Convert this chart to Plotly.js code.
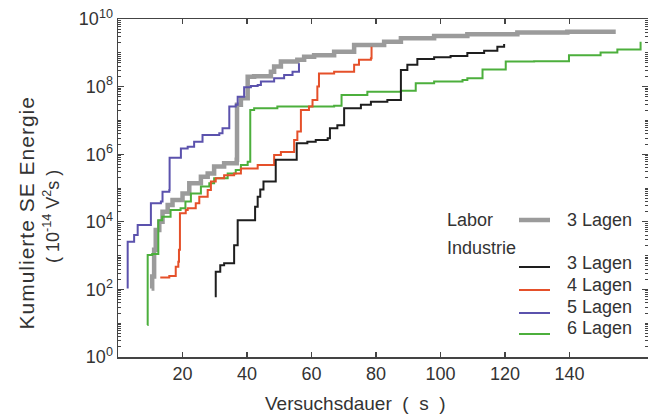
<!DOCTYPE html>
<html><head><meta charset="utf-8">
<script src="https://cdn.plot.ly/plotly-3.0.1.min.js"></script>
<style>html,body{margin:0;padding:0;background:#fff}#plot{width:648px;height:414px}</style>
</head><body><div id="plot"></div>
<script>
// Labor, 3 Lagen (gray)
const laborX = [10.4,10.6,11.2,11.7,12.8,13.8,15.4,16.9,20.0,22.1,25.7,27.8,29.8,32.9,36.8,36.9,38.1,40.2,42.2,47.4,48.4,50.5,55.6,57.7,60.8,67.0,73.2,82.5,87.7,98.0,108.3,123.8,139.3,154.3];
const laborY = [107,240,1480,5750,1.0e4,2.0e4,3.16e4,4.4e4,6.9e4,1.38e5,2.14e5,2.7e5,4.3e5,5.4e5,6.8e5,2.9e7,4.5e7,1.95e8,2.04e8,2.75e8,3.9e8,5.5e8,6.2e8,7.6e8,8.5e8,1.07e9,1.7e9,2.14e9,2.7e9,3.16e9,3.55e9,4.0e9,4.17e9,4.17e9];
// Industrie, 3 Lagen (black)
const ind3X = [30.0,30.3,31.7,32.9,36.0,37.1,42.5,43.3,44.1,45.1,48.9,55.4,58.7,61.3,65.0,65.7,68.0,70.1,75.3,78.4,83.5,87.7,89.7,92.8,98.0,103.1,108.3,113.5,117.6,119.7];
const ind3Y = [63,330,520,590,2040,1.12e4,2.8e4,5.5e4,9.1e4,1.55e5,6.8e5,2.1e6,2.34e6,2.63e6,2.95e6,5.9e6,7.2e6,2.3e7,2.9e7,3.55e7,4.0e7,3.1e8,4.4e8,6.5e8,7.4e8,8.1e8,9.8e8,1.15e9,1.51e9,1.82e9];
// Industrie, 4 Lagen (red)
const ind4X = [13.1,15.9,17.9,18.7,18.9,19.2,21.0,21.6,24.1,25.2,27.8,28.8,30.3,32.9,36.0,38.1,43.3,48.4,50.5,54.6,55.6,56.7,59.2,60.3,61.8,62.3,67.0,73.2,74.7,78.4,78.6];
const ind4Y = [224,250,470,660,1480,1.78e4,2.24e4,2.5e4,3.55e4,5.5e4,8.7e4,1.55e5,1.95e5,2.4e5,2.7e5,3.8e5,4.8e5,9.5e5,1.17e6,2.63e6,4.7e6,2.04e7,2.57e7,4.0e7,1.0e8,2.45e8,2.75e8,4.4e8,6.2e8,6.9e8,1.51e9];
// Industrie, 5 Lagen (blue)
const ind5X = [3.0,3.0,5.0,6.1,10.2,13.3,13.8,15.9,16.0,19.5,21.6,23.6,26.2,31.4,32.4,34.5,36.5,37.1,39.1,41.2,43.3,44.3,48.4,51.5,54.1,56.1,56.1];
const ind5Y = [107,2570,4070,8100,3.55e4,4.0e4,7.8e4,8.7e4,7.9e5,1.48e6,1.66e6,2.34e6,3.7e6,4.2e6,5.9e6,2.57e7,2.9e7,5.0e7,9.5e7,1.05e8,1.12e8,1.41e8,1.78e8,2.19e8,2.75e8,3.1e8,4.9e8];
// Industrie, 6 Lagen (green)
const ind6X = [9.1,9.2,10.6,12.5,13.7,16.3,19.4,20.9,22.6,25.7,28.3,29.8,34.0,36.5,38.1,40.2,41.0,41.0,42.2,49.4,67.0,69.3,77.3,87.7,92.3,98.0,106.8,108.3,113.0,120.2,129.0,139.8,149.6,154.8,162.0,162.0];
const ind6Y = [8.9,1050,1120,1.12e4,1.41e4,2.24e4,2.5e4,4.0e4,6.9e4,1.1e5,1.38e5,1.95e5,2.7e5,3.4e5,4.8e5,6.0e5,8.5e5,2.04e7,2.3e7,2.57e7,2.7e7,5.6e7,7.1e7,7.6e7,1.26e8,1.41e8,1.58e8,1.78e8,3.2e8,5.5e8,5.6e8,8.5e8,1.02e9,1.26e9,1.35e9,2.14e9];

const xTickVals = [20,40,60,80,100,120,140];
const yTickVals = [1,1e2,1e4,1e6,1e8,1e10];
const yTickText = ['10<sup>0</sup>','10<sup>2</sup>','10<sup>4</sup>','10<sup>6</sup>','10<sup>8</sup>','10<sup>10</sup>'];
const legendLabels = ['3 Lagen','3 Lagen','4 Lagen','5 Lagen','6 Lagen'];
const colors = {labor:'#9b9b9b', ind3:'#1e1e1e', ind4:'#e5502a', ind5:'#5b52ad', ind6:'#4caf3c'};

const minorVals = [];
for (let e = 0; e < 10; e++) {
  for (let m = 2; m <= 9; m++) minorVals.push(m * Math.pow(10, e));
  if (e % 2 === 1) minorVals.push(Math.pow(10, e));
}

function tr(x, y, c, w) {
  return {x: x, y: y, type: 'scatter', mode: 'lines', line: {color: c, width: w, shape: 'hv'}, hoverinfo: 'skip', showlegend: false};
}
const data = [
  tr(laborX, laborY, colors.labor, 4.5),
  tr(ind6X, ind6Y, colors.ind6, 2),
  tr(ind5X, ind5Y, colors.ind5, 2),
  tr(ind4X, ind4Y, colors.ind4, 2),
  tr(ind3X, ind3Y, colors.ind3, 2)
];

const font = {family: 'Liberation Sans, Arial, sans-serif', size: 18, color: '#333'};
const titleFont = {family: 'Liberation Sans, Arial, sans-serif', size: 19, color: '#333'};
const yTitleFont = {family: 'Liberation Sans, Arial, sans-serif', size: 21, color: '#333'};
const PX0 = 118, PW = 530, PY0 = 357, PH = 338;
const px = v => (v - PX0) / PW;
const py = v => (PY0 - v) / PH;

const ann = [
  {text: 'Kumulierte SE Energie', textangle: -90, x: px(26), y: py(213), xref: 'paper', yref: 'paper', showarrow: false, font: yTitleFont, xanchor: 'center', yanchor: 'middle'},
  {text: '( 10<sup>-14</sup> V<sup>2</sup>s )', textangle: -90, x: px(51), y: py(217), xref: 'paper', yref: 'paper', showarrow: false, font: font, xanchor: 'center', yanchor: 'middle'},
  {text: 'Versuchsdauer&nbsp; ( &nbsp;s &nbsp;)', x: px(355), y: py(403), xref: 'paper', yref: 'paper', showarrow: false, font: titleFont, xanchor: 'center', yanchor: 'middle'},
  {text: 'Labor', x: px(445), y: py(220), xref: 'paper', yref: 'paper', showarrow: false, font: font, xanchor: 'left', yanchor: 'middle'},
  {text: 'Industrie', x: px(445), y: py(248), xref: 'paper', yref: 'paper', showarrow: false, font: font, xanchor: 'left', yanchor: 'middle'}
];
const legRows = [
  {label: legendLabels[0], c: colors.labor, w: 4.5, ly: 220, ty: 220},
  {label: legendLabels[1], c: colors.ind3, w: 2, ly: 267, ty: 263},
  {label: legendLabels[2], c: colors.ind4, w: 2, ly: 290, ty: 285},
  {label: legendLabels[3], c: colors.ind5, w: 2, ly: 313, ty: 307},
  {label: legendLabels[4], c: colors.ind6, w: 2, ly: 334, ty: 328}
];
const shapes = [];
legRows.forEach(r => {
  ann.push({text: r.label, x: px(565), y: py(r.ty), xref: 'paper', yref: 'paper', showarrow: false, font: font, xanchor: 'left', yanchor: 'middle'});
  shapes.push({type: 'line', xref: 'paper', yref: 'paper', x0: px(519), x1: px(550), y0: py(r.ly), y1: py(r.ly), line: {color: r.c, width: r.w}});
});

const layout = {
  width: 648, height: 414,
  margin: {l: PX0, r: 648 - PX0 - PW, t: 19, b: 414 - PY0},
  paper_bgcolor: '#fff', plot_bgcolor: '#fff',
  font: font,
  showlegend: false,
  xaxis: {range: [0, 164.3], tickvals: xTickVals, ticks: 'inside', ticklen: 5, tickwidth: 1.3, tickcolor: '#444',
          showline: true, linecolor: '#444', linewidth: 1.5, mirror: 'ticks', showgrid: false, zeroline: false,
          tickfont: font},
  yaxis: {type: 'log', range: [0, 10], tickvals: yTickVals, ticktext: yTickText, ticks: 'inside', ticklen: 6, tickwidth: 1.3, tickcolor: '#444',
          showline: true, linecolor: '#444', linewidth: 1.5, mirror: 'ticks', showgrid: false, zeroline: false,
          tickfont: font,
          minor: {tickvals: minorVals, ticks: 'inside', ticklen: 3, tickwidth: 1, tickcolor: '#444', showgrid: false}},
  annotations: ann,
  shapes: shapes
};
Plotly.newPlot('plot', data, layout, {staticPlot: true, displayModeBar: false}).then(function () {
  const t = document.querySelectorAll('.annotation-text');
  for (const el of t) {
    if (el.textContent === 'Kumulierte SE Energie') {
      el.style.letterSpacing = '1px';
    }
  }
});
</script></body></html>
